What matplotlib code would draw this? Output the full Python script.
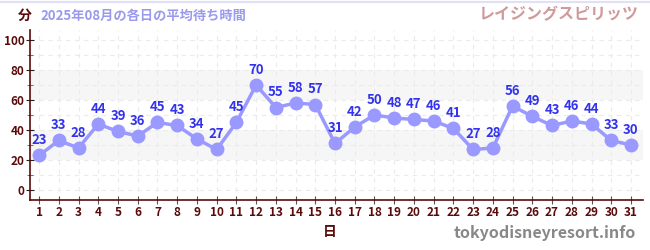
import matplotlib
matplotlib.use("Agg")
import matplotlib.pyplot as plt
from matplotlib.ticker import MultipleLocator

plt.rcParams["font.family"] = ["Noto Sans CJK JP", "DejaVu Sans"]

DAYS = list(range(1, 32))
WAIT = [23, 33, 28, 44, 39, 36, 45, 43, 34, 27, 45, 70, 55, 58, 57, 31,
        42, 50, 48, 47, 46, 41, 27, 28, 56, 49, 43, 46, 44, 33, 30]
TITLE = "2025年08月の各日の平均待ち時間"
ATTRACTION = "レイジングスピリッツ"
Y_UNIT = "分"
X_LABEL = "日"
SITE = "tokyodisneyresort.info"
BANDS = [(20, 40), (60, 80)]

DARK = "#5a0a0a"
LINE = "#9999ff"
LABEL = "#3333ee"

fig = plt.figure(figsize=(6.5, 2.5), dpi=100)
ax = fig.add_axes((30 / 650, 0.2, 613 / 650, 0.68))

for lo, hi in BANDS:
    ax.axhspan(lo, hi, color="#f6f6f6", zorder=0, lw=0)

ax.plot(DAYS, WAIT, color=LINE, lw=2.5, marker="o", markersize=9,
        markerfacecolor=LINE, markeredgecolor=LINE, zorder=3)
for d, v in zip(DAYS, WAIT):
    ax.annotate(str(v), (d, v), xytext=(0, 6), textcoords="offset points",
                ha="center", va="bottom", color=LABEL, fontsize=9.5,
                fontweight="bold", zorder=4)

ax.set_xlim(0.54, 31.61)
ax.set_ylim(-6.67, 106.67)
ax.set_xticks(DAYS)
ax.yaxis.set_major_locator(MultipleLocator(20))
ax.yaxis.set_minor_locator(MultipleLocator(10))
ax.grid(which="both", axis="y", color="#ebebeb", ls=(0, (4, 4)), lw=0.8)
ax.grid(which="major", axis="x", color="#ebebeb", ls=(0, (4, 4)), lw=0.8)
ax.set_axisbelow(True)

for side in ("top", "right"):
    ax.spines[side].set_visible(False)
for side in ("left", "bottom"):
    ax.spines[side].set_color(DARK)
    ax.spines[side].set_linewidth(1.2)

ax.tick_params(axis="x", direction="inout", length=6, color="#555555",
               labelsize=8.5, labelcolor=DARK, pad=1)
ax.tick_params(axis="y", which="major", direction="inout", length=6,
               color="#222222", labelsize=8.5, labelcolor=DARK, pad=1)
ax.tick_params(axis="y", which="minor", direction="inout", length=4,
               color="#dd2222")
for lbl in ax.get_xticklabels() + ax.get_yticklabels():
    lbl.set_fontweight("bold")

fig.text(25 / 650, 1 - 16 / 250, Y_UNIT, ha="center", va="center",
         color=DARK, fontsize=10, fontweight="bold")
fig.text(40 / 650, 1 - 16 / 250, TITLE, ha="left", va="center",
         color="#9999ee", fontsize=9.5, fontweight="bold")
fig.text(639 / 650, 1 - 14 / 250, ATTRACTION, ha="right", va="center",
         color="#d09a9a", fontsize=11.5, fontweight="bold")
fig.text(330 / 650, 1 - 232 / 250, X_LABEL, ha="center", va="center",
         color=DARK, fontsize=10, fontweight="bold")
fig.text(636 / 650, 1 - 233 / 250, SITE, ha="right", va="center",
         color="#888888", fontsize=11.5, fontweight="bold")
fig.add_artist(plt.Line2D([0, 1], [1 - 1.5 / 250] * 2, color="#e0e0f8",
                          lw=1.5, transform=fig.transFigure))

fig.savefig("out.png", dpi=100)
